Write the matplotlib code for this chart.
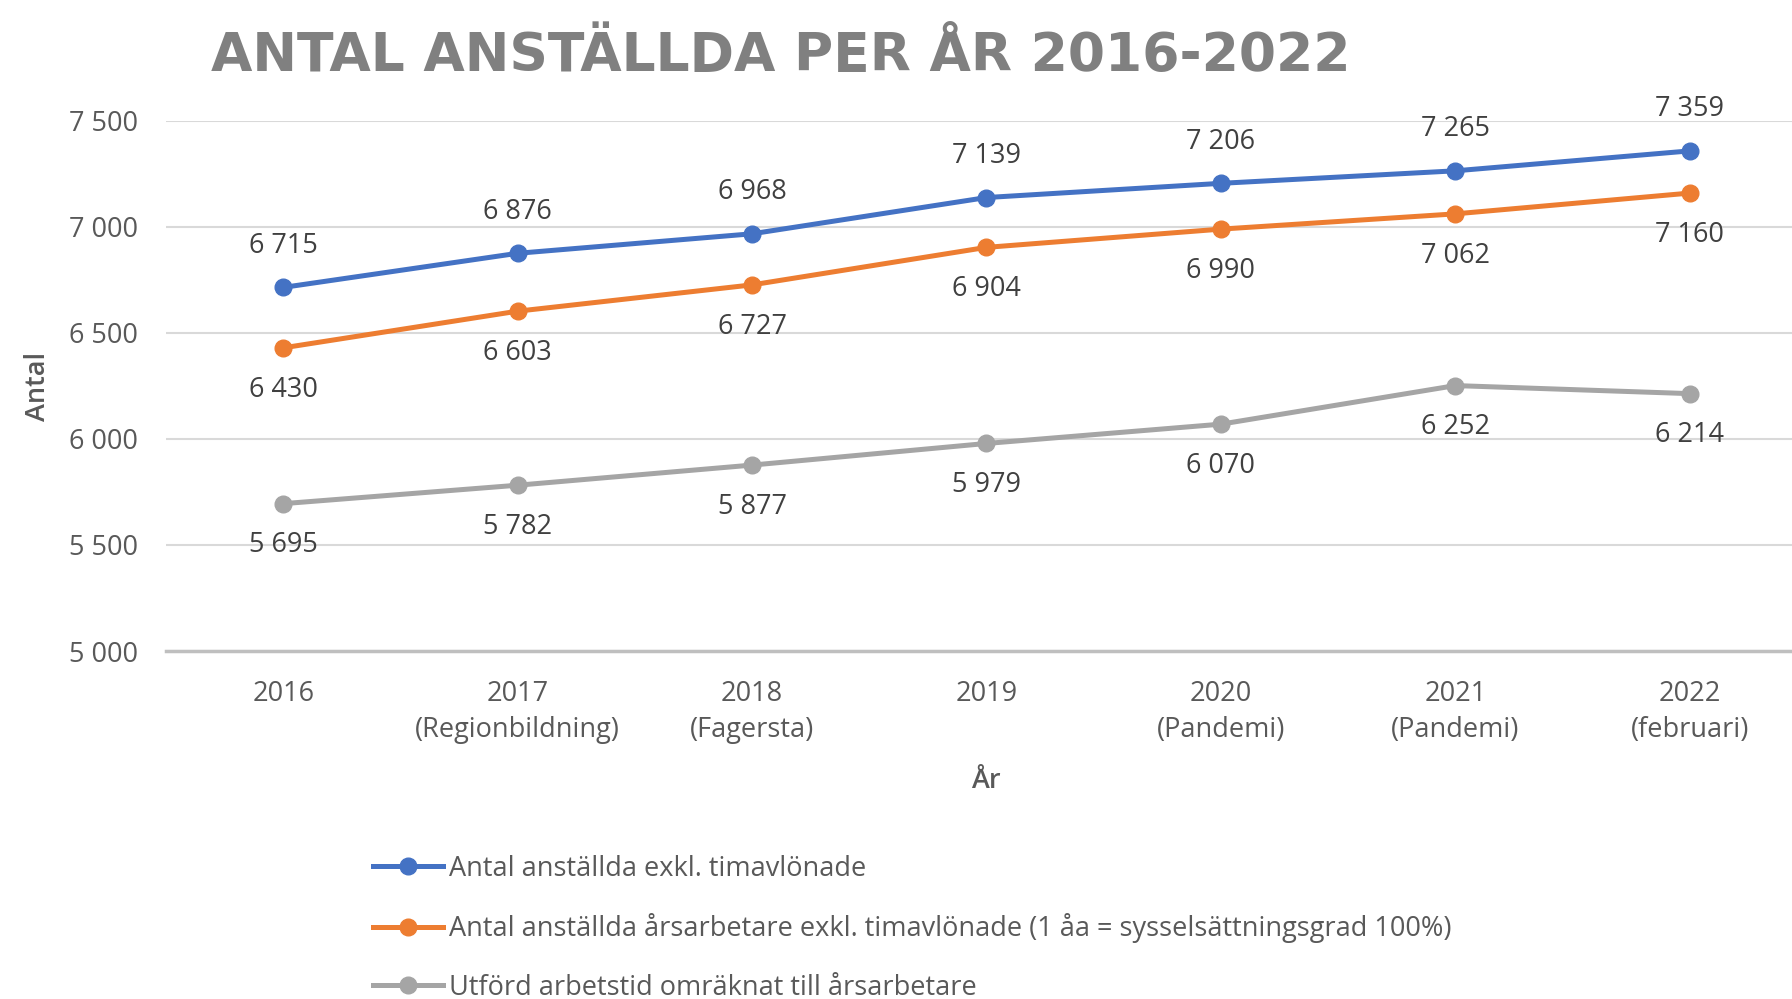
import matplotlib
matplotlib.use("Agg")
import matplotlib.pyplot as plt
from matplotlib.lines import Line2D

categories = ["2016", "2017\n(Regionbildning)", "2018\n(Fagersta)", "2019",
              "2020\n(Pandemi)", "2021\n(Pandemi)", "2022\n(februari)"]
series_names = ["Antal anställda exkl. timavlönade",
                "Antal anställda årsarbetare exkl. timavlönade (1 åa = sysselsättningsgrad 100%)",
                "Utförd arbetstid omräknat till årsarbetare"]
blue_vals = [6715, 6876, 6968, 7139, 7206, 7265, 7359]
orange_vals = [6430, 6603, 6727, 6904, 6990, 7062, 7160]
gray_vals = [5695, 5782, 5877, 5979, 6070, 6252, 6214]
y_ticks = [5000, 5500, 6000, 6500, 7000, 7500]

colors = ["#4472C4", "#ED7D31", "#A5A5A5"]
FONT = "Open Sans"

W, H = 1792, 999
fig = plt.figure(figsize=(W / 100, H / 100), dpi=100)

def px(x0, y0, x1, y1):
    return [x0 / W, 1 - y1 / H, (x1 - x0) / W, (y1 - y0) / H]

ax = fig.add_axes(px(166, 121, 1792, 651))
x = list(range(len(categories)))
all_vals = [blue_vals, orange_vals, gray_vals]
for vals, c in zip(all_vals, colors):
    ax.plot(x, vals, color=c, lw=3.6, marker="o", ms=12, solid_capstyle="round", zorder=3)

def fmt(v):
    return f"{v:,}".replace(",", " ")

FS = 19.5
for i, v in enumerate(blue_vals):
    ax.annotate(fmt(v), (i, v), xytext=(0, 30), textcoords="offset points",
                ha="center", va="center", fontsize=FS, color="#404040", family=FONT)
for vals in (orange_vals, gray_vals):
    for i, v in enumerate(vals):
        ax.annotate(fmt(v), (i, v), xytext=(0, -30), textcoords="offset points",
                    ha="center", va="center", fontsize=FS, color="#404040", family=FONT)

ax.set_xlim(-0.5, 6.5 - 15 / 234.5)
ax.set_ylim(5000, 7500)
ax.set_yticks(y_ticks)
ax.set_yticklabels([fmt(t) for t in y_ticks], fontsize=FS, color="#595959", family=FONT)
ax.set_xticks(x)
ax.set_xticklabels(categories, fontsize=FS, color="#595959", family=FONT, linespacing=1.38)
ax.tick_params(length=0)
ax.tick_params(axis="x", pad=21)
ax.tick_params(axis="y", pad=20)
ax.grid(axis="y", color="#D9D9D9", lw=1.5)
ax.set_axisbelow(True)
for s in ["top", "right", "left"]:
    ax.spines[s].set_visible(False)
ax.spines["bottom"].set_color("#BFBFBF")
ax.spines["bottom"].set_linewidth(2.5)

fig.text(38 / W, 1 - 386 / H, "Antal", rotation=90, ha="center", va="center",
         fontsize=FS, color="#595959", family=FONT, fontweight="semibold")
fig.text(986 / W, 1 - 781 / H, "År", ha="center", va="center",
         fontsize=FS, color="#595959", family=FONT, fontweight="semibold")

fig.text(211 / W, 1 - 71 / H, "ANTAL ANSTÄLLDA PER ÅR 2016-2022", ha="left", va="baseline",
         fontsize=38.5, color="#808080", family="DejaVu Sans", fontweight="bold")

handles = [Line2D([0], [0], color=c, lw=3.6, marker="o", ms=12) for c in colors]
leg = fig.legend(handles, series_names, loc="upper left", bbox_to_anchor=(362 / W, 1 - 844 / H),
                 frameon=False, prop={"family": FONT, "size": FS}, labelspacing=1.12,
                 handlelength=2.6, handletextpad=0.2, borderaxespad=0)
for t in leg.get_texts():
    t.set_color("#595959")

fig.savefig("out.png", dpi=100, facecolor="white")
